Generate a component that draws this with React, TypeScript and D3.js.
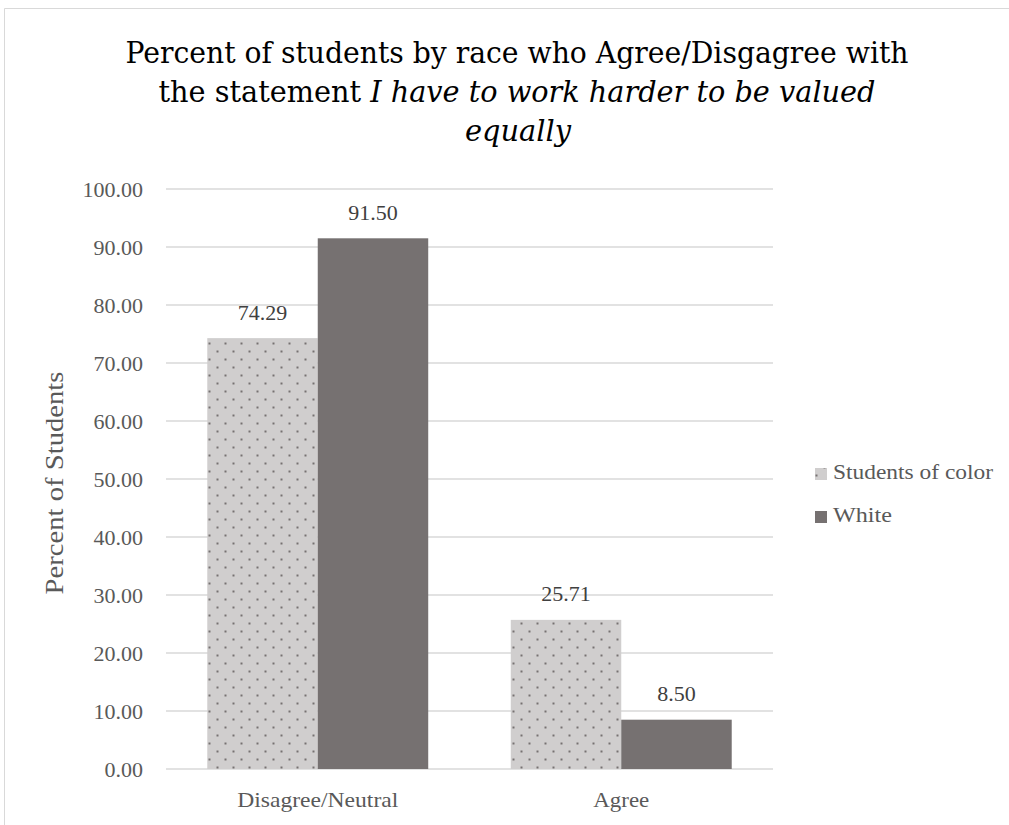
import React from "react";
import * as d3 from "d3";

const categories = ["Disagree/Neutral", "Agree"];
const seriesNames = ["Students of color", "White"];
const studentsOfColor = [74.29, 25.71];
const white = [91.5, 8.5];
const yTicks = [0, 10, 20, 30, 40, 50, 60, 70, 80, 90, 100];

const W = 1009;
const H = 825;
const serif: React.CSSProperties = { fontFamily: "'Liberation Serif', serif" };
const titleFont: React.CSSProperties = { fontFamily: "'DejaVu Serif', serif" };

// set widths for label text so the serif face keeps its proportions
const categoryWidths: Record<string, number> = {
  "Disagree/Neutral": 161,
  Agree: 56,
};
const legendWidths: Record<string, number> = {
  "Students of color": 160,
  White: 59,
};

export default function App() {
  const x = d3
    .scaleBand<string>()
    .domain(categories)
    .range([166, 773])
    .paddingInner(0.272)
    .paddingOuter(0.136);
  const inner = d3
    .scaleBand<string>()
    .domain(seriesNames)
    .range([0, x.bandwidth()])
    .padding(0);
  const y = d3.scaleLinear().domain([0, 100]).range([769, 189]);

  const series = [
    { name: seriesNames[0], values: studentsOfColor, fill: "url(#dotFill)" },
    { name: seriesNames[1], values: white, fill: "#767171" },
  ];

  return (
    <svg
      width={W}
      height={H}
      style={{ position: "absolute", left: 0, top: 0, background: "#fff" }}
    >
      <defs>
        <pattern
          id="dotFill"
          patternUnits="userSpaceOnUse"
          width={16}
          height={16}
          x={0.5}
          y={6.5}
        >
          <rect width={16} height={16} fill="#d0cece" />
          <rect x={0} y={0} width={2} height={2} fill="#767171" />
          <rect x={8} y={8} width={2} height={2} fill="#767171" />
        </pattern>
      </defs>

      {/* chart frame */}
      <line x1={4.5} y1={8.5} x2={W} y2={8.5} stroke="#d9d9d9" />
      <line x1={4.5} y1={8.5} x2={4.5} y2={H} stroke="#d9d9d9" />

      {/* title */}
      <text
        x={517}
        y={63}
        textAnchor="middle"
        fontSize={30}
        fill="#000"
        style={titleFont}
        textLength={783}
        lengthAdjust="spacingAndGlyphs"
      >
        Percent of students by race who Agree/Disgagree with
      </text>
      <text
        x={517}
        y={102}
        textAnchor="middle"
        fontSize={30}
        fill="#000"
        style={titleFont}
        textLength={717}
        lengthAdjust="spacingAndGlyphs"
      >
        the statement{" "}
        <tspan fontStyle="italic">I have to work harder to be valued</tspan>
      </text>
      <text
        x={518}
        y={141}
        textAnchor="middle"
        fontSize={30}
        fill="#000"
        fontStyle="italic"
        style={titleFont}
        textLength={106}
        lengthAdjust="spacingAndGlyphs"
      >
        equally
      </text>

      {/* gridlines */}
      {yTicks.map((t) => (
        <line
          key={t}
          x1={166}
          x2={773}
          y1={y(t)}
          y2={y(t)}
          stroke="#d9d9d9"
          strokeWidth={1.5}
        />
      ))}

      {/* y tick labels */}
      {yTicks.map((t) => (
        <text
          key={t}
          x={143}
          y={y(t)}
          dy="0.35em"
          textAnchor="end"
          fontSize={22}
          fill="#595959"
          style={serif}
        >
          {t.toFixed(2)}
        </text>
      ))}

      {/* y axis title */}
      <text
        transform="translate(63,483) rotate(-90)"
        textAnchor="middle"
        fontSize={26}
        fill="#595959"
        style={serif}
        textLength={223}
        lengthAdjust="spacingAndGlyphs"
      >
        Percent of Students
      </text>

      {/* bars */}
      {series.map((s) =>
        categories.map((c, i) => {
          const bx = (x(c) ?? 0) + (inner(s.name) ?? 0);
          const v = s.values[i];
          return (
            <g key={s.name + c}>
              <rect
                x={bx}
                y={y(v)}
                width={inner.bandwidth()}
                height={y(0) - y(v)}
                fill={s.fill}
              />
              <text
                x={bx + inner.bandwidth() / 2}
                y={y(v) - 18.5}
                textAnchor="middle"
                fontSize={22}
                fill="#404040"
                style={serif}
              >
                {v.toFixed(2)}
              </text>
            </g>
          );
        })
      )}

      {/* category labels */}
      {categories.map((c) => (
        <text
          key={c}
          x={(x(c) ?? 0) + x.bandwidth() / 2}
          y={807}
          textAnchor="middle"
          fontSize={22}
          fill="#595959"
          style={serif}
          textLength={categoryWidths[c]}
          lengthAdjust="spacingAndGlyphs"
        >
          {c}
        </text>
      ))}

      {/* legend */}
      {series.map((s, i) => (
        <g key={s.name} transform={`translate(815, ${468 + i * 43})`}>
          <rect width={12} height={12} fill={s.fill} />
          <text
            x={18}
            y={11}
            fontSize={22}
            fill="#595959"
            style={serif}
            textLength={legendWidths[s.name]}
            lengthAdjust="spacingAndGlyphs"
          >
            {s.name}
          </text>
        </g>
      ))}
    </svg>
  );
}
